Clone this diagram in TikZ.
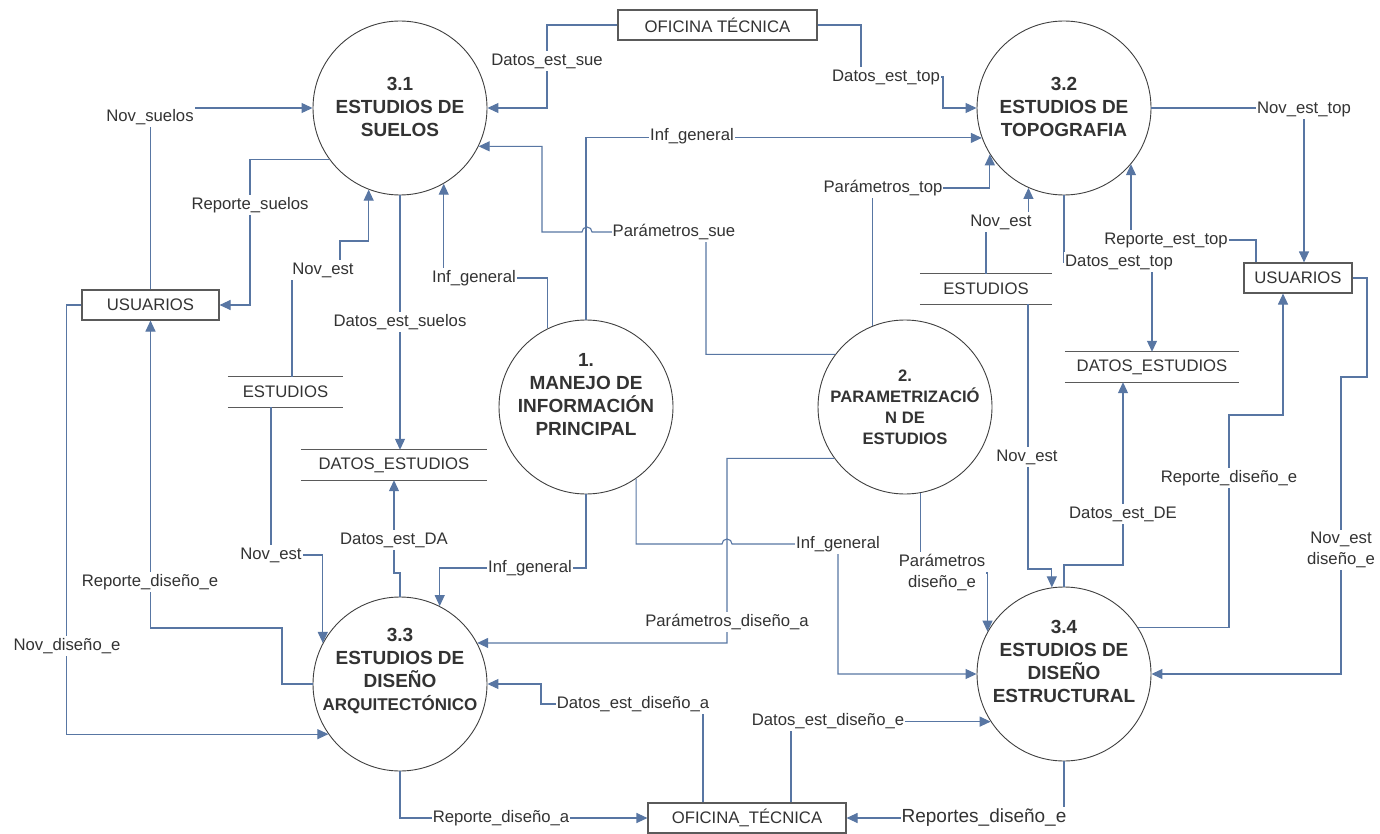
\documentclass[tikz,border=0pt]{standalone}
\usepackage{fontspec}
\setmainfont{Liberation Sans}
\usetikzlibrary{arrows.meta}
\definecolor{flowc}{RGB}{88,118,163}
\definecolor{inkc}{RGB}{51,51,51}
\definecolor{edgec}{RGB}{64,64,64}
\definecolor{boxc}{RGB}{90,90,90}
\newcommand\labfont{\fontsize{16.7}{21}\selectfont}

\begin{document}
\begin{tikzpicture}[x=1pt,y=-1pt,
  proc/.style={circle,draw=edgec,line width=0.9pt,fill=white,minimum size=174pt,inner sep=0pt},
  ptext/.style={text=inkc,align=center,font=\bfseries\fontsize{19}{23}\selectfont},
  ent/.style={rectangle,draw=boxc,line width=1.1pt,fill=white,minimum height=30pt,inner sep=0pt,text=inkc,font=\labfont},
  store/.style={minimum height=30pt,inner sep=0pt,text=inkc,font=\labfont},
  flow/.style={draw=flowc,line width=1.1pt},
  arr/.style={flow,-{Triangle[length=11pt,width=10pt]}},
  lab/.style={fill=white,inner xsep=1pt,inner ysep=2.5pt,text=inkc,font=\labfont,align=center},
]
\useasboundingbox (0,0) rectangle (1380,834);

% external entities
\node[ent,minimum width=199pt] (o1) at (717.5,25) {OFICINA TÉCNICA};
\node[ent,minimum width=137pt] (u1) at (150.5,305) {USUARIOS};
\node[ent,minimum width=108pt] (u2) at (1298,278) {USUARIOS};
\node[ent,minimum width=198pt] (o2) at (747,818) {OFICINA\_TÉCNICA};

% data stores
\node[store,minimum width=115pt] (s1) at (285.5,392) {ESTUDIOS};
\node[store,minimum width=186pt] (s2) at (394,465) {DATOS\_ESTUDIOS};
\node[store,minimum width=132pt] (s3) at (986,289) {ESTUDIOS};
\node[store,minimum width=174pt] (s4) at (1152,367) {DATOS\_ESTUDIOS};
\foreach \s in {s1,s2,s3,s4}
  \draw[boxc,line width=1.1pt] (\s.north west)--(\s.north east) (\s.south west)--(\s.south east);

% processes
\node[proc] (c31) at (400,108) {};
\node[proc] (c32) at (1064,108) {};
\node[proc] (c1)  at (586,407) {};
\node[proc] (c2)  at (905,407) {};
\node[proc] (c33) at (400,684) {};
\node[proc] (c34) at (1064,674) {};

\node[ptext] (t31) at (400,107) {3.1\\ESTUDIOS DE\\SUELOS};
\node[ptext] (t32) at (1064,107) {3.2\\ESTUDIOS DE\\TOPOGRAFIA};
\node[ptext] (t1)  at (586,395) {1.\\MANEJO DE\\INFORMACIÓN\\PRINCIPAL};
\node[ptext,font=\bfseries\fontsize{16.6}{21}\selectfont] (t2) at (905,407) {2.\\PARAMETRIZACIÓ\\N DE\\ESTUDIOS};
\node[ptext] (t33) at (400,671) {3.3\\ESTUDIOS DE\\DISEÑO\\{\fontsize{17}{21}\selectfont ARQUITECTÓNICO}};
\node[ptext] (t34) at (1064,661) {3.4\\ESTUDIOS DE\\DISEÑO\\ESTRUCTURAL};

% flows around 3.1
\draw[arr] (u1.north) |- (c31.west);
\draw[arr] (c31.216) -| (250,305) -- (u1.east);
\draw[arr] (s1.north -| 292,0) -- (292,270) -- (340,270) -- (340,241) -| (c31.249);
\draw[arr] (c31.south) -- (c31.south |- s2.north);
\draw[arr] (c1.116) -- (c1.116 |- 0,278) -| (c31.300);
\draw[arr] (o1.west) -| (547,108) -- (c31.east);
\draw[arr] (c2.143) -| (706,232) -- (592,232) arc[start angle=0,end angle=180,radius=5pt] -- (542,232) |- (c31.334);

% flows around 3.2
\draw[arr] (o1.east) -| (861,77) -- (943,77) |- (c32.west);
\draw[arr] (c1.north) |- (c32.200);
\draw[arr] (c2.112) -- (c2.112 |- 0,188) -| (c32.212);
\draw[arr] (s3.north -| 986,0) -- (986,222) -| (c32.246);
\draw[arr] (c32.south) -- (c32.south |- 0,262) -| (s4.north);
\draw[arr] (u2.north -| 1256,0) -- (1256,240) -| (c32.320);
\draw[arr] (c32.east) -| (u2.north -| 1304,0);

% flows around 3.4
\draw[arr] (u2.east) -| (1367,377) -| (1341,674) -- (c34.east);
\draw[arr] (c34.32) -| (1229,415) -| (u2.south -| 1283,0);
\draw[arr] (s3.south -| 1028,0) -- (1028,569) -| (c34.98);
\draw[arr] (c34.north) -- (1064,565) -| (s4.south -| 1123,0);
\draw[arr] (c2.280) -- (c2.280 |- 0,573) -| (c34.151);
\draw[arr] (c1.305) |- (722,544) arc[start angle=180,end angle=0,radius=5pt] -- (838,544) |- (c34.west);
\draw[arr] (o2.north -| 791,0) |- (c34.213);
\draw[arr] (c34.south) |- (o2.east);

% flows around 3.3
\draw[arr] (c2.216) -| (727,643) -- (c33.28);
\draw[arr] (c1.south) -- (c1.south |- 0,568) -| (c33.63);
\draw[arr] (c33.north) -- (400,573) -| (s2.south -| 394,0);
\draw[arr] (s1.south -| 271,0) -- (271,555) -| (c33.152);
\draw[arr] (c33.west) -| (282,628) -| (u1.south);
\draw[arr] (u1.west) -- ++(-15,0) |- (c33.215);
\draw[arr] (c33.south) |- (o2.west);
\draw[arr] (o2.north -| 703,0) -- (703,704) -| (541,684) -- (c33.east);

% flow labels
\node[lab] (l1)  at (547,61)   {Datos\_est\_sue};
\node[lab] (l2)  at (886,77)   {Datos\_est\_top};
\node[lab] (l3)  at (150,117)  {Nov\_suelos};
\node[lab] (l4)  at (692,136)  {Inf\_general};
\node[lab] (l5)  at (883,188)  {Parámetros\_top};
\node[lab] (l6)  at (250,205)  {Reporte\_suelos};
\node[lab] (l7)  at (1001,222) {Nov\_est};
\node[lab] (l8)  at (674,232)  {Parámetros\_sue};
\node[lab] (l9)  at (1166,240) {Reporte\_est\_top};
\node[lab] (l10) at (1119,262) {Datos\_est\_top};
\node[lab] (l11) at (323,270)  {Nov\_est};
\node[lab] (l12) at (474,278)  {Inf\_general};
\node[lab] (l13) at (1304,109) {Nov\_est\_top};
\node[lab] (l14) at (400,322)  {Datos\_est\_suelos};
\node[lab] (l15) at (1027,457) {Nov\_est};
\node[lab] (l16) at (1229,478) {Reporte\_diseño\_e};
\node[lab] (l17) at (1123,514) {Datos\_est\_DE};
\node[lab] (l18) at (1341,550) {Nov\_est\\diseño\_e};
\node[lab] (l19) at (394,540)  {Datos\_est\_DA};
\node[lab] (l20) at (838,544)  {Inf\_general};
\node[lab] (l21) at (271,555)  {Nov\_est};
\node[lab] (l22) at (530,568)  {Inf\_general};
\node[lab] (l23) at (942,573)  {Parámetros\\diseño\_e};
\node[lab] (l24) at (150,582)  {Reporte\_diseño\_e};
\node[lab] (l25) at (727,622)  {Parámetros\_diseño\_a};
\node[lab] (l26) at (67,646)   {Nov\_diseño\_e};
\node[lab] (l27) at (633,704)  {Datos\_est\_diseño\_a};
\node[lab] (l28) at (828,721)  {Datos\_est\_diseño\_e};
\node[lab] (l29) at (501,818)  {Reporte\_diseño\_a};
\node[lab,font=\fontsize{19}{23}\selectfont] (l30) at (984,818) {Reportes\_diseño\_e};
\end{tikzpicture}
\end{document}
